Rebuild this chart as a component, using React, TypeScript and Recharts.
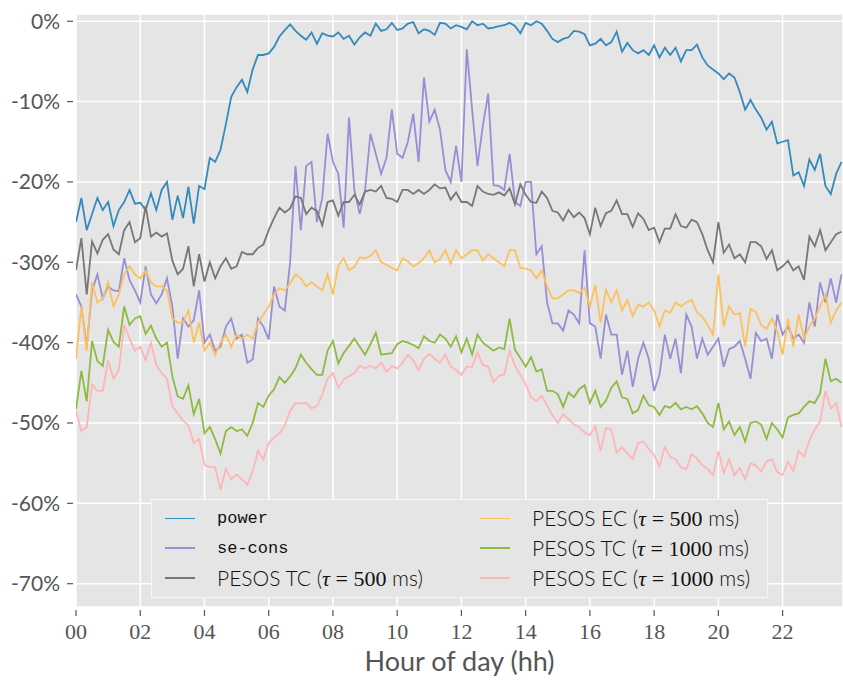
import { LineChart, Line, XAxis, YAxis, CartesianGrid, Legend } from 'recharts';

// one sample every 10 minutes, 00:00 .. 23:50
const SLOT_MINUTES = 10;

// relative difference (%)
const POWER = [
  -25, -22, -26, -24, -22, -23.5,
  -22.5, -25.5, -23.5, -22.5, -21, -22.7,
  -22.6, -23.5, -21.4, -23.5, -21, -20,
  -24.7, -21.7, -24.5, -20.6, -25.2, -20.5,
  -20.9, -17, -17.5, -16, -12.8, -9.4,
  -8.2, -7.3, -8.8, -6, -4.2, -4.2,
  -4, -3.2, -1.9, -1.1, -0.4, -1.2,
  -1.8, -2.3, -1.4, -2.8, -1.5, -1.8,
  -1.9, -1.4, -2.2, -1.8, -2.9, -2.0,
  -1.4, -1.8, -0.3, -1.2, -1.0, -0.2,
  -1.1, -0.9, -0.3, -0.1, -1.5, -1.0,
  -1.2, -1.7, -0.2, -0.3, -0.9, -0.5,
  -0.7, -1.0, 0.0, -0.5, -0.3, -0.9,
  -0.8, -0.6, -0.5, -0.2, -0.6, -1.5,
  -0.2, -0.5, 0.0, -0.3, -1.2, -2.2,
  -2.6, -2.2, -2.0, -1.2, -1.3, -1.6,
  -3.0, -2.8, -2.2, -3.0, -2.6, -1.3,
  -3.8, -2.7, -3.6, -4.0, -3.6, -4.2,
  -3.0, -4.5, -3.3, -4.2, -3.3, -5.0,
  -3.6, -3.6, -2.9, -4.5, -5.5, -6.0,
  -6.5, -7.2, -6.5, -7.0, -8.8, -11.0,
  -9.8, -11.0, -12.0, -13.5, -12.5, -15.2,
  -15.0, -14.8, -19.2, -18.8, -20.5, -17.2,
  -18.5, -16.5, -20.5, -21.5, -19.0, -17.5,
];

const SE_CONS = [
  -34.0, -35.5, -40.5, -33.5, -31.5, -34.5,
  -33.0, -33.5, -33.6, -29.5, -32.2, -33.5,
  -35.0, -30.5, -34.0, -35.1, -34.0, -32.0,
  -35.5, -42.0, -37.0, -38.0, -37.2, -33.5,
  -40.0, -39.0, -41.0, -40.5, -38.0, -37.0,
  -39.5, -39.0, -42.5, -42.1, -37.0, -38.0,
  -39.6, -33.0, -35.5, -36.0, -30.0, -18.0,
  -26.0, -18.0, -17.5, -25.0, -22.0, -14.0,
  -17.5, -19.0, -25.7, -12.0, -21.0, -24.0,
  -21.0, -14.0, -16.5, -19.0, -17.0, -11.0,
  -16.5, -17.0, -15.0, -11.5, -17.5, -7.0,
  -12.5, -11.0, -13.5, -18.5, -20.0, -15.5,
  -20.0, -3.5, -11.0, -18.0, -13.0, -9.0,
  -20.4, -20.5, -21.0, -16.5, -22.5, -23.0,
  -20.0, -20.0, -29.0, -28.0, -35.0, -37.6,
  -37.6, -38.5, -36.0, -36.5, -37.6, -28.5,
  -37.6, -38.0, -42.0, -36.5, -39.0, -39.0,
  -44.0, -41.0, -45.5, -42.0, -40.0, -42.0,
  -46.0, -44.0, -39.0, -42.0, -39.5, -43.8,
  -36.5, -38.0, -42.0, -39.5, -41.5, -40.5,
  -39.5, -43.0, -40.8, -40.5, -39.8, -42.0,
  -44.5, -38.8, -39.8, -39.5, -42.0, -36.5,
  -39.0, -38.0, -39.5, -39.0, -40.0, -35.0,
  -38.0, -32.5, -35.0, -32.0, -35.0, -31.5,
];

const TC_500 = [
  -31.0, -27.0, -34.0, -27.4, -28.9, -27.2,
  -26.5, -28.4, -29.0, -26.0, -25.0, -27.5,
  -27.0, -23.0, -26.8, -26.3, -26.8, -26.4,
  -29.8, -31.5, -30.8, -28.0, -33.0, -29.0,
  -32.4, -30.0, -32.0, -30.5, -29.5, -30.8,
  -30.5, -28.7, -29.0, -29.0, -28.2, -27.8,
  -26.0, -24.5, -23.2, -23.8, -23.3, -21.8,
  -22.0, -24.0, -23.2, -23.6, -25.4, -22.5,
  -22.3, -24.2, -22.5, -22.5, -21.6, -22.8,
  -21.2, -21.0, -21.2, -20.5, -22.0, -22.1,
  -22.5, -21.0, -21.0, -21.5, -21.0, -21.5,
  -21.0, -20.3, -20.8, -20.7, -22.2, -21.3,
  -22.5, -22.5, -23.0, -20.5, -21.2, -21.5,
  -21.6, -21.3, -21.7, -20.8, -22.8, -20.3,
  -21.6, -22.5, -22.6, -21.2, -22.0, -23.6,
  -23.8, -24.8, -23.5, -24.4, -23.8, -24.5,
  -26.5, -23.2, -25.5, -23.9, -23.6, -22.3,
  -24.0, -24.0, -25.6, -23.9, -24.6, -26.0,
  -25.7, -27.5, -25.8, -25.8, -24.0, -25.5,
  -25.7, -24.7, -25.0, -26.5, -28.5, -30.0,
  -25.0, -28.8, -27.8, -29.5, -29.0, -30.0,
  -27.5, -27.5, -28.0, -29.6, -28.5, -31.0,
  -30.5, -29.8, -31.0, -30.5, -32.2, -26.8,
  -28.0, -26.0, -28.5, -27.5, -26.5, -26.2,
];

const EC_500 = [
  -42.0, -35.5, -41.0, -32.5, -35.0, -34.5,
  -32.5, -35.5, -34.0, -31.5, -30.5, -31.5,
  -32.0, -31.0, -32.5, -33.0, -33.0, -33.5,
  -37.0, -37.5, -37.5, -36.0, -40.0, -37.5,
  -41.0, -40.0, -41.5, -40.0, -39.0, -40.5,
  -39.0, -39.5, -39.0, -39.5, -37.5, -36.5,
  -35.5, -34.0, -33.2, -33.5, -32.6, -31.5,
  -32.0, -33.0, -32.5, -33.0, -33.5, -31.5,
  -34.0, -30.4, -29.5, -31.0, -30.6, -29.4,
  -29.5, -29.2, -28.5, -30.0, -30.3, -30.7,
  -31.0, -29.5, -29.9, -30.5, -30.1, -29.5,
  -28.5, -30.0, -29.6, -28.5, -30.2, -28.5,
  -29.5, -29.0, -28.5, -28.5, -29.8, -29.0,
  -29.5, -30.0, -30.5, -28.5, -28.5, -30.7,
  -30.8, -31.0, -32.0, -31.0, -33.0, -34.5,
  -34.5, -34.0, -33.5, -33.5, -33.8, -33.2,
  -35.5, -32.8, -37.5, -33.4, -35.0, -33.5,
  -36.0, -34.7, -36.7, -35.3, -35.5, -35.0,
  -36.0, -38.0, -36.0, -36.3, -35.0, -35.5,
  -35.0, -34.7, -36.2, -36.8, -37.8, -39.0,
  -31.5, -38.0, -35.5, -36.5, -36.3, -40.5,
  -35.8, -36.2, -37.8, -38.3, -37.0, -38.6,
  -41.5, -37.0, -40.5, -36.5, -39.5, -38.0,
  -37.0, -35.5, -34.0, -37.5, -36.0, -35.0,
];

const TC_1000 = [
  -48.3, -43.5, -47.3, -39.8, -42.3, -42.9,
  -38.4, -39.9, -40.5, -35.5, -37.8, -37.0,
  -36.7, -38.9, -37.9, -39.5, -40.5, -40.0,
  -44.2, -46.7, -47.0, -45.3, -48.9, -47.0,
  -51.3, -50.5, -52.0, -53.8, -51.0, -50.5,
  -51.0, -50.8, -51.6, -50.0, -47.5, -48.0,
  -46.6, -45.8, -44.3, -45.0, -44.2, -43.2,
  -41.5, -42.5, -43.3, -44.0, -44.0, -41.0,
  -39.8, -42.6, -41.3, -40.4, -39.5, -40.5,
  -41.5, -40.2, -38.8, -41.5, -41.4, -41.3,
  -40.2, -39.8, -40.0, -40.3, -40.7, -39.2,
  -39.8, -40.0, -39.0, -39.5, -40.5, -39.2,
  -41.2, -39.5, -41.5, -39.0, -40.0, -40.5,
  -41.0, -40.6, -40.8, -37.0, -40.9, -41.9,
  -43.0, -41.8, -43.6, -43.3, -46.0, -46.0,
  -46.4, -48.0, -46.2, -46.8, -45.8, -45.3,
  -47.5, -46.0, -48.0, -47.2, -45.6, -44.8,
  -46.8, -47.0, -48.8, -48.4, -46.6, -47.8,
  -48.0, -49.0, -47.9, -48.1, -47.5, -48.3,
  -48.0, -48.3, -47.9, -48.8, -50.0, -50.5,
  -47.5, -50.8, -49.8, -51.5, -50.5, -52.3,
  -50.0, -49.8, -50.2, -52.0, -50.0, -50.8,
  -51.8, -49.3, -49.0, -48.8, -48.0, -47.3,
  -47.5, -46.3, -42.0, -44.8, -44.5, -45.0,
];

const EC_1000 = [
  -48.5, -51.0, -50.5, -45.2, -46.0, -46.0,
  -42.2, -44.5, -43.4, -37.8, -39.5, -41.0,
  -40.5, -42.2, -40.0, -42.8, -43.8, -44.5,
  -47.9, -48.8, -49.7, -50.3, -52.5, -52.0,
  -55.2, -55.5, -55.5, -58.3, -55.7, -57.0,
  -56.4, -57.0, -57.7, -56.0, -53.5, -54.5,
  -52.5, -51.8, -51.3, -50.3, -48.5, -47.5,
  -47.6, -47.5, -48.2, -47.9, -46.5, -44.5,
  -43.8, -45.6, -44.6, -44.2, -43.8, -42.9,
  -43.2, -42.9, -43.2, -42.5, -43.6, -42.9,
  -43.2, -42.5, -41.5, -42.2, -43.4, -42.0,
  -41.4, -42.0, -42.5, -41.5, -43.0, -43.4,
  -44.0, -43.0, -43.0, -41.2, -42.8, -43.0,
  -44.9, -44.1, -44.0, -41.0, -42.9, -44.0,
  -45.2, -46.8, -47.3, -46.6, -47.8, -49.0,
  -50.0, -48.9, -49.5, -50.2, -50.5, -51.2,
  -51.5, -50.4, -53.5, -50.6, -50.8, -53.7,
  -53.0, -53.8, -54.5, -52.5, -52.3, -53.2,
  -54.0, -55.4, -53.0, -54.2, -54.5, -55.5,
  -55.8, -53.9, -54.4, -55.3, -55.7, -56.5,
  -53.5, -56.2, -54.5, -56.5, -55.6, -57.0,
  -55.0, -55.3, -56.0, -54.8, -54.5, -56.1,
  -56.5, -54.8, -56.0, -53.5, -54.2, -52.2,
  -50.8, -49.8, -46.0, -48.2, -47.5, -50.5,
];

const HOUR_TICKS = [0, 2, 4, 6, 8, 10, 12, 14, 16, 18, 20, 22];
const PCT_TICKS = [0, -10, -20, -30, -40, -50, -60, -70];

const SERIES = [
  { key: 'power', label: 'power', color: '#348ABD', mono: true, values: POWER },
  { key: 'secons', label: 'se-cons', color: '#988ED5', mono: true, values: SE_CONS },
  { key: 'tc500', label: 'PESOS TC', tau: '500', color: '#777777', values: TC_500 },
  { key: 'ec500', label: 'PESOS EC', tau: '500', color: '#FBC15E', values: EC_500 },
  { key: 'tc1000', label: 'PESOS TC', tau: '1000', color: '#8EBA42', values: TC_1000 },
  { key: 'ec1000', label: 'PESOS EC', tau: '1000', color: '#FFB5B8', values: EC_1000 },
];

const data = POWER.map((_, i) => {
  const row: Record<string, number> = { hour: (i * SLOT_MINUTES) / 60 };
  SERIES.forEach(s => { row[s.key] = s.values[i]; });
  return row;
});

const SANS = 'Lato, "DejaVu Sans", sans-serif';
const SERIF = '"Liberation Serif", "DejaVu Serif", serif';
const MONO = '"Liberation Mono", "DejaVu Sans Mono", monospace';
const TICK_COLOR = '#555555';

function LegendLabel({ s }: { s: any }) {
  if (s.mono) {
    return <span style={{ fontFamily: MONO, fontSize: 17, fontWeight: 400 }}>{s.label}</span>;
  }
  return (
    <span style={{ fontFamily: SANS, fontSize: 21, fontWeight: 300, whiteSpace: 'pre' }}>
      {s.label} (
      <span style={{ fontFamily: SERIF, fontStyle: 'italic', fontSize: 22 }}>τ</span>
      <span style={{ fontFamily: SERIF, fontSize: 22 }}> = {s.tau}</span>
      {' ms)'}
    </span>
  );
}

function renderLegend() {
  const rows = [18.5, 48, 78];
  return (
    <div
      style={{
        position: 'relative',
        width: 617,
        height: 99,
        boxSizing: 'border-box',
        background: '#E5E5E5',
        border: '1.5px solid #F6F6F6',
        color: '#111',
      }}
    >
      {SERIES.map((s, i) => {
        const col = Math.floor(i / 3);
        const row = i % 3;
        const left = col === 0 ? 13 : 328;
        return (
          <div
            key={s.key}
            style={{
              position: 'absolute',
              left,
              top: rows[row] - 15,
              height: 30,
              display: 'flex',
              alignItems: 'center',
              whiteSpace: 'nowrap',
            }}
          >
            <span style={{ display: 'inline-block', width: 30, height: 1.8, background: s.color, marginRight: 22 }} />
            <LegendLabel s={s} />
          </div>
        );
      })}
    </div>
  );
}

export default function App() {
  return (
    <div style={{ position: 'absolute', left: 0, top: 0, width: 843, height: 680, background: '#fff' }}>
      <LineChart width={843} height={680} data={data} margin={{ top: 0, right: 0, bottom: 0, left: 0 }}>
        <CartesianGrid fill="#E5E5E5" stroke="#FFFFFF" strokeWidth={1.5} />
        <XAxis
          dataKey="hour"
          type="number"
          domain={[0, 23.88]}
          allowDataOverflow
          ticks={HOUR_TICKS}
          tickFormatter={(v: number) => String(v).padStart(2, '0')}
          height={73}
          axisLine={false}
          tickSize={6}
          tickMargin={10}
          tickLine={{ stroke: TICK_COLOR, strokeWidth: 1.2, transform: 'translate(0,3)' }}
          tick={{ fill: TICK_COLOR, fontFamily: SERIF, fontSize: 22 }}
          label={{
            value: 'Hour of day (hh)',
            position: 'insideBottom',
            offset: 9,
            style: { fill: TICK_COLOR, fontFamily: SANS, fontSize: 27 },
          }}
        />
        <XAxis
          xAxisId="top"
          orientation="top"
          dataKey="hour"
          type="number"
          domain={[0, 23.88]}
          allowDataOverflow
          ticks={HOUR_TICKS}
          height={14}
          axisLine={false}
          tickSize={6}
          tickLine={{ stroke: TICK_COLOR, strokeWidth: 1.2, transform: 'translate(0,-2)' }}
          tick={false}
        />
        <YAxis
          type="number"
          domain={[-72.9, 0.9]}
          allowDataOverflow
          ticks={PCT_TICKS}
          tickFormatter={(v: number) => `${v}%`}
          width={76}
          axisLine={false}
          tickSize={6}
          tickMargin={10}
          tickLine={{ stroke: TICK_COLOR, strokeWidth: 1.2, transform: 'translate(-3,0)' }}
          tick={{ fill: TICK_COLOR, fontFamily: SANS, fontSize: 21 }}
        />
        {SERIES.map(s => (
          <Line
            key={s.key}
            type="linear"
            dataKey={s.key}
            stroke={s.color}
            strokeWidth={1.8}
            dot={false}
            isAnimationActive={false}
          />
        ))}
        <Legend
          layout="vertical"
          align="center"
          verticalAlign="middle"
          content={renderLegend}
          wrapperStyle={{ position: 'absolute', left: 151, top: 499, width: 617, height: 99, margin: 0 }}
        />
      </LineChart>
    </div>
  );
}
